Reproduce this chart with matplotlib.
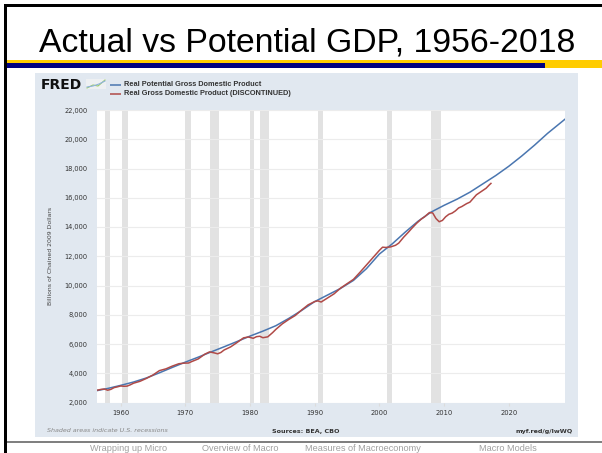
import matplotlib.pyplot as plt
from matplotlib.patches import Rectangle
from matplotlib.lines import Line2D
from matplotlib.ticker import FuncFormatter

# Real GDP, billions of chained 2009 dollars (quarter dates as year fractions)
gdp_years = [1956.0, 1956.5, 1957.0, 1957.5, 1958.0, 1958.5, 1959.0, 1959.5,
             1960.0, 1960.5, 1961.0, 1961.5, 1962.0, 1963.0, 1964.0, 1965.0,
             1966.0, 1967.0, 1968.0, 1969.0, 1969.75, 1970.5, 1971.0, 1972.0,
             1973.0, 1973.75, 1974.5, 1975.0, 1975.5, 1976.0, 1977.0, 1978.0,
             1979.0, 1979.75, 1980.5, 1981.0, 1981.5, 1982.0, 1982.75, 1983.5,
             1984.0, 1985.0, 1986.0, 1987.0, 1988.0, 1989.0, 1990.0, 1990.5,
             1991.0, 1992.0, 1993.0, 1994.0, 1995.0, 1996.0, 1997.0, 1998.0,
             1999.0, 2000.0, 2000.5, 2001.0, 2001.75, 2002.5, 2003.0, 2003.75,
             2004.5, 2005.0, 2005.75, 2006.5, 2007.0, 2007.75, 2008.25, 2008.75,
             2009.25, 2009.75, 2010.25, 2010.75, 2011.25, 2011.75, 2012.25,
             2012.75, 2013.5, 2014.0, 2014.5, 2015.0, 2015.5, 2016.0, 2016.5,
             2017.0, 2017.25]
gdp_values = [2840, 2850, 2900, 2920, 2840, 2900, 3020, 3070,
              3130, 3110, 3120, 3210, 3320, 3450, 3650, 3880,
              4180, 4300, 4490, 4650, 4690, 4700, 4800, 4980,
              5300, 5460, 5390, 5330, 5420, 5590, 5800, 6100,
              6420, 6480, 6390, 6500, 6530, 6430, 6490, 6780,
              7000, 7380, 7680, 7950, 8330, 8680, 8900, 8950,
              8870, 9150, 9430, 9820, 10120, 10420, 10900, 11400,
              11900, 12400, 12620, 12600, 12640, 12750, 12900, 13300,
              13650, 13900, 14250, 14550, 14700, 14990, 14960, 14580,
              14360, 14450, 14700, 14870, 14950, 15100, 15300,
              15400, 15600, 15700, 15950, 16200, 16350, 16500, 16650,
              16880, 16980]

# Real potential GDP (CBO), billions of chained 2009 dollars
potential_years = [1956, 1958, 1960, 1962, 1964, 1966, 1968, 1970, 1972, 1974,
                   1976, 1978, 1980, 1982, 1984, 1986, 1988, 1990, 1992, 1994,
                   1996, 1998, 2000, 2002, 2004, 2006, 2008, 2010, 2012, 2014,
                   2016, 2018, 2020, 2022, 2024, 2026, 2028.75]
potential_values = [2780, 2960, 3170, 3400, 3680, 4030, 4400, 4760, 5100, 5460,
                    5810, 6170, 6540, 6880, 7250, 7750, 8300, 8900, 9350, 9800,
                    10350, 11150, 12150, 12850, 13650, 14400, 15020, 15480, 15900, 16380,
                    16950, 17520, 18150, 18850, 19600, 20400, 21390]

# NBER recessions (start, end)
recessions = [(1957.58, 1958.33), (1960.25, 1961.17), (1969.92, 1970.92),
              (1973.83, 1975.25), (1980.0, 1980.58), (1981.5, 1982.92),
              (1990.5, 1991.25), (2001.17, 2001.92), (2007.92, 2009.5)]

x_ticks = [1960, 1970, 1980, 1990, 2000, 2010, 2020]
y_ticks = list(range(2000, 22001, 2000))
footer_items = ["Wrapping up Micro", "Overview of Macro",
                "Measures of Macroeconomy", "Macro Models"]
footer_x = [129, 240, 363, 508]

W, H = 602, 453
fig = plt.figure(figsize=(W / 100, H / 100), dpi=100)
fig.patch.set_facecolor('white')


def box(x0, y0, x1, y1, color, z=-1):
    fig.add_artist(Rectangle((x0 / W, 1 - y1 / H), (x1 - x0) / W, (y1 - y0) / H,
                             transform=fig.transFigure, facecolor=color,
                             edgecolor='none', zorder=z))


def seg(x0, y0, x1, y1, color, lw, z=2):
    fig.add_artist(Line2D([x0 / W, x1 / W], [1 - y0 / H, 1 - y1 / H],
                          transform=fig.transFigure, color=color, lw=lw,
                          solid_capstyle='butt', zorder=z))


# slide frame, title and header bars
box(4, 4, W, 7, 'black', 3)
box(4, 4, 7, H, 'black', 3)
fig.text(307 / W, 1 - 51 / H, "Actual vs Potential GDP, 1956-2018",
         family='Liberation Sans', fontsize=24.3, ha='center', va='baseline')
box(7, 60, W, 68, '#ffcc00', 1)
box(7, 63.5, 545, 68, '#000080', 2)

# FRED panel
box(35, 73, 578, 437, '#e1e8f0')

ax = fig.add_axes([97 / W, 1 - 402.5 / H, 468 / W, 292.5 / H])
ax.set_facecolor('white')
for s in ax.spines.values():
    s.set_visible(False)
for a, b in recessions:
    ax.axvspan(a, b, color='#e2e2e2', lw=0, zorder=0.5)
ax.set_axisbelow(True)
ax.yaxis.grid(True, color='#ececec', lw=0.8)
ax.plot(potential_years, potential_values, color='#4a76b0', lw=1.1, zorder=3)
ax.plot(gdp_years, gdp_values, color='#b04a47', lw=1.1, zorder=4)
ax.set_xlim(1956.35, 2028.7)
ax.set_ylim(2000, 22000)
ax.set_xticks(x_ticks)
ax.set_yticks(y_ticks)
ax.yaxis.set_major_formatter(FuncFormatter(lambda v, p: f"{int(v):,}"))
ax.tick_params(axis='x', length=2.5, color='#dcdcdc', pad=3.2,
               labelsize=4.9, labelcolor='#333333')
ax.tick_params(axis='y', length=0, pad=6.8, labelsize=4.8, labelcolor='#333333')

fig.text(50 / W, 1 - 256 / H, "Billions of Chained 2009 Dollars", rotation=90,
         fontsize=4.4, color='#444444', ha='center', va='center')

# FRED logo and legend
fig.text(41 / W, 1 - 85 / H, "FRED", fontsize=10, fontweight='heavy',
         color='#111111', ha='left', va='center')
box(86, 79, 106, 89, '#eef0f2', 2)
fig.add_artist(Line2D([87 / W, 93 / W, 98 / W, 105 / W],
                      [1 - 88 / H, 1 - 85 / H, 1 - 86 / H, 1 - 80 / H],
                      transform=fig.transFigure, color='#9ccc65', lw=0.8, zorder=3))
fig.add_artist(Line2D([87 / W, 93 / W, 99 / W, 105 / W],
                      [1 - 87 / H, 1 - 86 / H, 1 - 84 / H, 1 - 81 / H],
                      transform=fig.transFigure, color='#8fb3dd', lw=0.8, zorder=3))
seg(109.5, 85, 121, 85, '#4a76b0', 1.1)
seg(109.5, 93.5, 121, 93.5, '#b04a47', 1.1)
fig.text(124 / W, 1 - 85 / H, "Real Potential Gross Domestic Product",
         family='Liberation Sans', fontweight='bold', fontsize=5.3,
         color='#333333', ha='left', va='center')
fig.text(124 / W, 1 - 93.5 / H, "Real Gross Domestic Product (DISCONTINUED)",
         family='Liberation Sans', fontweight='bold', fontsize=5.3,
         color='#333333', ha='left', va='center')

# panel notes
fig.text(47 / W, 1 - 431 / H, "Shaded areas indicate U.S. recessions",
         fontsize=4.6, style='italic', color='#888888', ha='left', va='center')
fig.text(306 / W, 1 - 431 / H, "Sources: BEA, CBO", fontsize=4.6,
         fontweight='bold', color='#333333', ha='center', va='center')
fig.text(573 / W, 1 - 431 / H, "myf.red/g/lwWQ", fontsize=4.6,
         fontweight='bold', color='#333333', ha='right', va='center')

# slide footer
box(7, 441, W, 443, '#808080', 2)
for label, xc in zip(footer_items, footer_x):
    fig.text(xc / W, 1 - 444 / H, label, family='Liberation Sans',
             fontsize=6.6, color='#a0a0a0', ha='center', va='top')

fig.savefig('out.png', dpi=100)
